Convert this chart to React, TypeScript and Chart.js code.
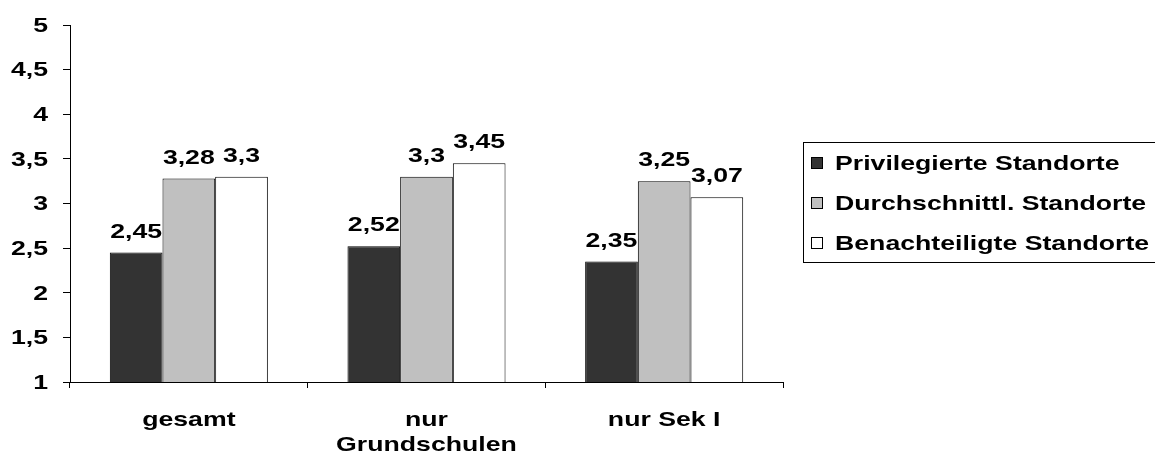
import React, { useEffect, useRef } from "react";
import { Chart, registerables } from "chart.js";

Chart.register(...registerables);

const categories: (string | string[])[] = ["gesamt", ["nur", "Grundschulen"], "nur Sek I"];
const seriesNames = ["Privilegierte Standorte", "Durchschnittl. Standorte", "Benachteiligte Standorte"];
const privilegiert = [2.45, 2.52, 2.35];
const durchschnitt = [3.28, 3.3, 3.25];
const benachteiligt = [3.3, 3.45, 3.07];
const seriesColors = ["#333333", "#c0c0c0", "#ffffff"];
const yMin = 1;
const yMax = 5;
const yStep = 0.5;

const FONT = "bold 21px 'Liberation Sans', Arial, sans-serif";
const STRETCH = 1.27;

const fmt = (v: number) => String(v).replace(".", ",");

function drawText(ctx: CanvasRenderingContext2D, text: string, x: number, y: number, align: CanvasTextAlign, baseline: CanvasTextBaseline) {
  ctx.save();
  ctx.font = FONT;
  ctx.fillStyle = "#000";
  ctx.textAlign = align;
  ctx.textBaseline = baseline;
  ctx.translate(x, y);
  ctx.scale(STRETCH, 1);
  ctx.fillText(text, 0, 0);
  ctx.restore();
}

const axisLabelPlugin = {
  id: "axisLabels",
  afterDraw(chart: any) {
    const ctx = chart.ctx;
    const ys = chart.scales.y;
    ys.ticks.forEach((t: any, i: number) => {
      drawText(ctx, fmt(t.value), ys.right - 22, ys.getPixelForTick(i) + 1, "right", "middle");
    });
    const xs = chart.scales.x;
    const labels = chart.data.labels;
    labels.forEach((lab: any, i: number) => {
      const lines = Array.isArray(lab) ? lab : [lab];
      const x = xs.getPixelForTick(i);
      lines.forEach((line: string, k: number) => {
        drawText(ctx, line, x, xs.top + 38 + k * 25, "center", "middle");
      });
    });
  },
};

const valueLabelPlugin = {
  id: "valueLabels",
  afterDatasetsDraw(chart: any) {
    const ctx = chart.ctx;
    chart.data.datasets.forEach((ds: any, i: number) => {
      const meta = chart.getDatasetMeta(i);
      meta.data.forEach((el: any, j: number) => {
        drawText(ctx, fmt(ds.data[j]), el.x, el.y - 15, "center", "alphabetic");
      });
    });
  },
};

const legendPlugin = {
  id: "customLegend",
  afterDraw(chart: any) {
    const ctx = chart.ctx;
    const left = chart.chartArea.right + 20;
    const top = 142;
    const rowH = 40;
    ctx.save();
    ctx.lineWidth = 1;
    ctx.strokeStyle = "#000";
    ctx.strokeRect(left + 0.5, top + 0.5, 400, rowH * chart.data.datasets.length);
    chart.data.datasets.forEach((ds: any, i: number) => {
      const cy = top + 21 + i * rowH;
      ctx.fillStyle = ds.backgroundColor;
      ctx.fillRect(left + 8, cy - 6, 12, 12);
      ctx.strokeRect(left + 8.5, cy - 5.5, 11, 11);
      drawText(ctx, ds.label, left + 32, cy + 1, "left", "middle");
    });
    ctx.restore();
  },
};

export default function App() {
  const ref = useRef<HTMLCanvasElement>(null);
  useEffect(() => {
    document.body.style.margin = "0";
    const canvas = ref.current!;
    const values = [privilegiert, durchschnitt, benachteiligt];
    const hidden = "rgba(0,0,0,0)";
    const chart = new Chart(canvas, {
      type: "bar",
      data: {
        labels: categories,
        datasets: seriesNames.map((name, i) => ({
          label: name,
          data: values[i],
          backgroundColor: seriesColors[i],
          borderColor: "#000",
          borderWidth: 1,
          borderSkipped: false,
          categoryPercentage: 0.665,
          barPercentage: 1,
        })),
      },
      options: {
        animation: false,
        responsive: false,
        devicePixelRatio: 1,
        layout: { padding: { top: 25, right: 372, left: 0, bottom: 0 } },
        plugins: { legend: { display: false }, tooltip: { enabled: false } },
        scales: {
          x: {
            offset: true,
            grid: { display: true, drawOnChartArea: false, drawTicks: true, tickLength: 6, color: "#000", offset: true },
            border: { color: "#000", width: 1 },
            ticks: { color: hidden, maxRotation: 0, autoSkip: false, font: { size: 10 } },
            afterFit: (s: any) => {
              s.height = 87;
              s.paddingLeft = 0;
              s.paddingRight = 0;
            },
          },
          y: {
            min: yMin,
            max: yMax,
            grid: { display: true, drawOnChartArea: false, drawTicks: true, tickLength: 7, color: "#000" },
            border: { color: "#000", width: 1 },
            ticks: {
              stepSize: yStep,
              color: hidden,
              font: { size: 10 },
              callback: (v: any) => fmt(Number(v)),
            },
            afterFit: (s: any) => {
              s.width = 70;
              s.paddingTop = 0;
              s.paddingBottom = 0;
            },
          },
        },
      },
      plugins: [valueLabelPlugin, axisLabelPlugin, legendPlugin],
    });
    return () => chart.destroy();
  }, []);
  return (
    <div style={{ width: 1155, height: 469, background: "#fff" }}>
      <canvas ref={ref} width={1155} height={469} style={{ display: "block" }} />
    </div>
  );
}
